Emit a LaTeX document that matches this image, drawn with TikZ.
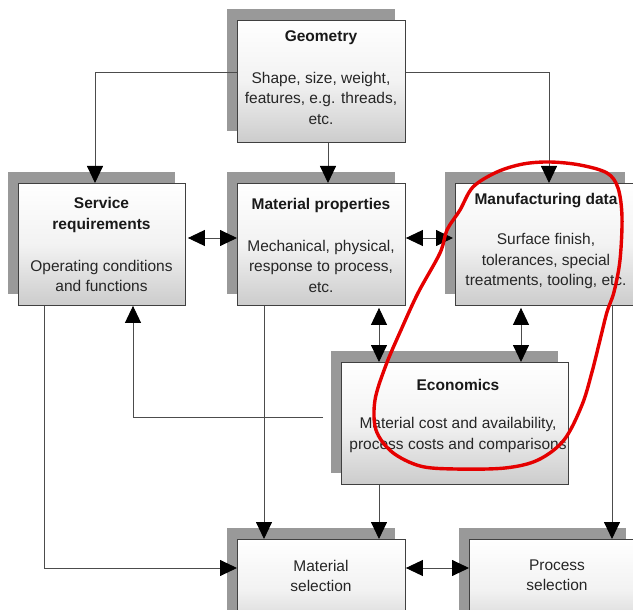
\documentclass[tikz,border=0pt]{standalone}
\usepackage{fontspec}
\setmainfont{Liberation Sans}
\usetikzlibrary{arrows.meta,shadows,calc}
\begin{document}
\begin{tikzpicture}[x=1pt,y=-1pt,
  box/.style={draw=black!75, line width=0.9pt, anchor=north west, inner sep=0pt,
    top color=white, bottom color=black!20, middle color=black!5,
    general shadow={fill=black!40, draw=none, shadow xshift=-10pt, shadow yshift=11pt}},
  ttl/.style={font=\fontsize{15.5pt}{20.5pt}\selectfont\bfseries, text=black!90, align=center, inner sep=0pt},
  bdy/.style={font=\fontsize{15.5pt}{20.5pt}\selectfont, text=black!85, align=center, inner sep=0pt},
  conn/.style={draw=black!70, line width=0.9pt},
  tip/.tip={Triangle[length=17pt,width=16pt,color=black]},
  arr/.style={conn, -tip},
  darr/.style={conn, tip-tip},
  loop/.style={draw=red!90!black, line width=3.4pt, line join=round}
]
\useasboundingbox (0,0) rectangle (633,610);
\clip (0,0) rectangle (633,610);

% boxes
\node[box, minimum width=168pt, minimum height=122pt] (geo) at (237,20) {};
\node[box, minimum width=167pt, minimum height=122pt] (serv) at (18,183) {};
\node[box, minimum width=168pt, minimum height=122pt] (mp) at (237,183) {};
\node[box, minimum width=180pt, minimum height=122pt] (md) at (455,183) {};
\node[box, minimum width=227pt, minimum height=122pt] (eco) at (341,362) {};
\node[box, minimum width=168pt, minimum height=100pt] (msel) at (237,539) {};
\node[box, minimum width=167pt, minimum height=100pt] (psel) at (469,539) {};

% texts
\node[ttl] (geoT) at (321,38) {Geometry};
\node[bdy] (geoB) at (321,98) {Shape, size, weight,\\features, e.g. threads,\\etc.};
\node[ttl] (servT) at (101.5,215) {Service\\requirements};
\node[bdy] (servB) at (101.5,276) {Operating conditions\\and functions};
\node[ttl] (mpT) at (321,205) {Material properties};
\node[bdy] (mpB) at (321,266) {Mechanical, physical,\\response to process,\\etc.};
\node[ttl] (mdT) at (546,201) {Manufacturing data};
\node[bdy] (mdB) at (546,261) {Surface finish,\\tolerances, special\\treatments, tooling, etc.};
\node[ttl] (ecoT) at (458,385) {Economics};
\node[bdy] (ecoB) at (458,435) {Material cost and availability,\\process costs and comparisons};
\node[bdy] (mselT) at (321,576) {Material\\selection};
\node[bdy] (pselT) at (557,575) {Process\\selection};

% connectors
\draw[arr] (geo.west |- 0,72) -| (serv.north -| 95,0);
\draw[arr] (geo.south -| 328,0) -- (mp.north -| 328,0);
\draw[arr] (geo.east |- 0,72) -| (md.north -| 549,0);
\draw[darr, shorten <=2pt] (serv.east |- 0,238) -- (mp.west |- 0,238);
\draw[darr, shorten >=2pt] (mp.east |- 0,238) -- (md.west |- 0,238);
\draw[darr, shorten <=2pt] (mp.south -| 379,0) -- (eco.north -| 379,0);
\draw[darr, shorten <=2pt] (md.south -| 521,0) -- (eco.north -| 521,0);
\draw[arr, shorten <=18pt] (eco.west |- 0,417) -| (serv.south -| 133,0);
\draw[arr] (serv.south -| 44,0) |- (msel.west |- 0,568);
\draw[arr] (mp.south -| 264,0) -- (msel.north -| 264,0);
\draw[arr] (eco.south -| 379,0) -- (msel.north -| 379,0);
\draw[arr] (md.south -| 612,0) -- (psel.north -| 612,0);
\draw[darr] (msel.east |- 0,568) -- (psel.west |- 0,568);

% red hand-drawn loop
\draw[loop] plot[smooth cycle, tension=0.55] coordinates {
  (523,164) (550,162) (580,165) (607,173) (618,188) (622,217) (620,260)
  (614,292) (607,312) (600,340) (592,372) (582,405) (564,440) (538,460)
  (505,468) (455,469) (420,466) (392,452) (376,430) (375,400) (386,365)
  (401,330) (418,293) (440,253) (447,230) (460,210) (473,187) (497,172)};
\end{tikzpicture}
\end{document}
